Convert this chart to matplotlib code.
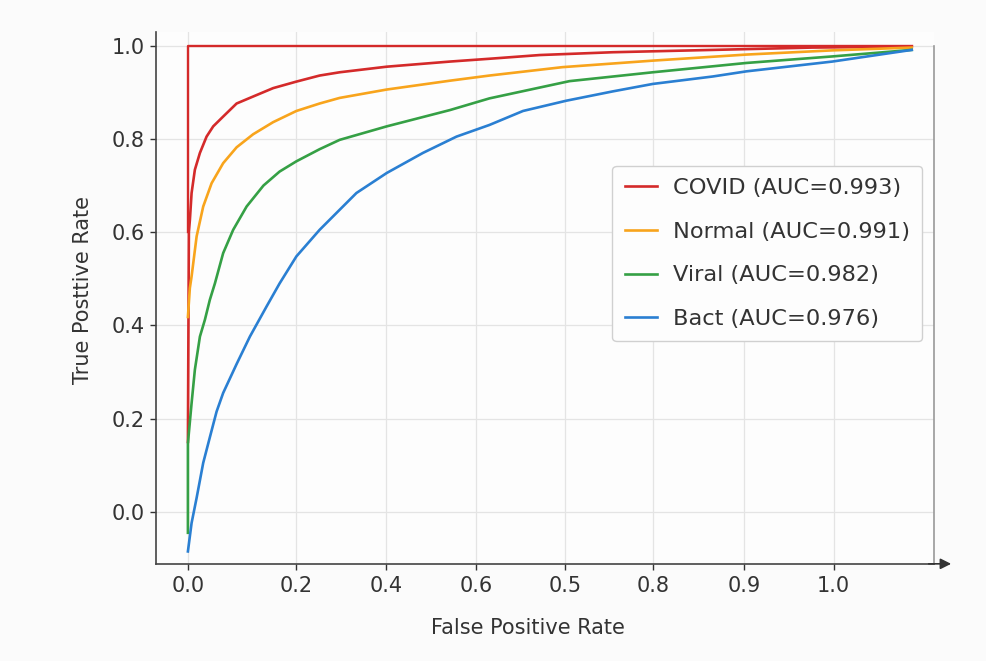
import matplotlib
matplotlib.use('Agg')
import matplotlib.pyplot as plt

# posições no eixo x (unidades do eixo) e rótulos mostrados
tick_pos = [0.0, 0.167, 0.307, 0.446, 0.584, 0.720, 0.861, 1.0]
tick_labels = ['0.0', '0.2', '0.4', '0.6', '0.5', '0.8', '0.9', '1.0']
ytick_vals = [0.0, 0.2, 0.4, 0.6, 0.8, 1.0]

# curvas ROC
covid_x = [0.0, 0.0015, 0.0031, 0.0057, 0.0108, 0.0186, 0.0289, 0.0392, 0.0546, 0.0754,
           0.101, 0.132, 0.168, 0.204, 0.235, 0.308, 0.406, 0.467, 0.545, 0.658,
           0.813, 0.967, 1.121]
covid_y = [0.15, 0.60, 0.627, 0.684, 0.734, 0.770, 0.805, 0.827, 0.848, 0.876,
           0.891, 0.909, 0.923, 0.936, 0.943, 0.955, 0.966, 0.972, 0.980, 0.986,
           0.991, 0.996, 0.998]

normal_x = [0.0, 0.003, 0.0057, 0.0135, 0.0237, 0.0367, 0.0546, 0.0754, 0.101, 0.132,
            0.168, 0.204, 0.235, 0.308, 0.406, 0.467, 0.580, 0.720, 0.865, 0.998, 1.121]
normal_y = [0.418, 0.48, 0.505, 0.591, 0.655, 0.705, 0.748, 0.782, 0.810, 0.836,
            0.860, 0.876, 0.888, 0.906, 0.925, 0.936, 0.954, 0.968, 0.981, 0.990, 0.996]

viral_x = [0.0, 0.0, 0.0057, 0.0108, 0.0186, 0.0263, 0.034, 0.0418, 0.0546, 0.0701,
           0.0909, 0.117, 0.142, 0.168, 0.204, 0.235, 0.308, 0.406, 0.467, 0.591,
           0.720, 0.865, 0.998, 1.121]
viral_y = [-0.045, 0.147, 0.233, 0.305, 0.376, 0.412, 0.455, 0.49, 0.555, 0.605,
           0.655, 0.700, 0.730, 0.752, 0.778, 0.798, 0.827, 0.862, 0.887, 0.924,
           0.943, 0.963, 0.977, 0.991]

bact_x = [0.0, 0.0057, 0.0135, 0.0237, 0.034, 0.0444, 0.0546, 0.0754, 0.096, 0.122,
          0.142, 0.155, 0.168, 0.204, 0.235, 0.261, 0.308, 0.364, 0.416, 0.467,
          0.519, 0.586, 0.658, 0.720, 0.813, 0.865, 0.998, 1.121]
bact_y = [-0.085, -0.024, 0.03, 0.105, 0.16, 0.215, 0.255, 0.317, 0.376, 0.441,
          0.49, 0.519, 0.548, 0.605, 0.648, 0.684, 0.727, 0.770, 0.805, 0.830,
          0.860, 0.882, 0.902, 0.918, 0.934, 0.945, 0.966, 0.991]

# linha do classificador perfeito (vermelha, em degrau)
perfect_x = [0.0, 0.0, 1.121]
perfect_y = [0.6, 1.0, 1.0]

labels = ['COVID (AUC=0.993)', 'Normal (AUC=0.991)', 'Viral (AUC=0.982)', 'Bact (AUC=0.976)']
cores = ['#d42a2a', '#f8a41c', '#35a045', '#2a7fd2']

plt.rcParams['font.family'] = ['DejaVu Sans']
txt = '#333333'

fig = plt.figure(figsize=(9.87, 6.61), dpi=100, facecolor='#fbfbfb')
ax = fig.add_axes([0.158, 0.147, 0.788, 0.805])
ax.set_facecolor('#fdfdfd')

ax.plot(perfect_x, perfect_y, color=cores[0], lw=1.7)
ax.plot(covid_x, covid_y, color=cores[0], lw=1.9, label=labels[0])
ax.plot(normal_x, normal_y, color=cores[1], lw=1.9, label=labels[1])
ax.plot(viral_x, viral_y, color=cores[2], lw=1.9, label=labels[2])
ax.plot(bact_x, bact_y, color=cores[3], lw=1.9, label=labels[3])

ax.set_xlim(-0.0495, 1.155)
ax.set_ylim(-0.1116, 1.030)
ax.set_xticks(tick_pos)
ax.set_xticklabels(tick_labels)
ax.set_yticks(ytick_vals)
ax.set_yticklabels(['%.1f' % v for v in ytick_vals])
ax.tick_params(axis='both', labelsize=15, colors=txt, length=4, width=1)
ax.tick_params(axis='x', pad=5)
ax.tick_params(axis='y', pad=4)
ax.grid(True, color='#e4e4e4', lw=0.9)
ax.set_axisbelow(True)

for s in ['left', 'bottom', 'right']:
    ax.spines[s].set_color('#444444')
    ax.spines[s].set_linewidth(1.2)
ax.spines['top'].set_visible(False)
ax.spines['right'].set_color('#999999')
ax.spines['right'].set_bounds(-0.1116, 1.0)

# seta no fim do eixo x
ax.annotate('', xy=(1.026, 0), xycoords='axes fraction', xytext=(0.99, 0),
            arrowprops=dict(arrowstyle='-|>', color='#333333', lw=1.2, mutation_scale=16),
            annotation_clip=False)

ax.set_xlabel('False Positive Rate', fontsize=15, color=txt)
ax.set_ylabel('True Posttive Rate', fontsize=15, color=txt)
ax.xaxis.set_label_coords(0.478, -0.102)
ax.yaxis.set_label_coords(-0.081, 0.515)

leg = ax.legend(loc='upper right', bbox_to_anchor=(0.985, 0.748), borderaxespad=0,
                fontsize=16.2, labelspacing=1.05, handlelength=1.45, handletextpad=0.68,
                borderpad=0.55, frameon=True, fancybox=True, framealpha=1)
leg.get_frame().set_edgecolor('#d0d0d0')
leg.get_frame().set_facecolor('#fdfdfd')
for t in leg.get_texts():
    t.set_color(txt)

plt.savefig('out.png', dpi=100, facecolor=fig.get_facecolor())
